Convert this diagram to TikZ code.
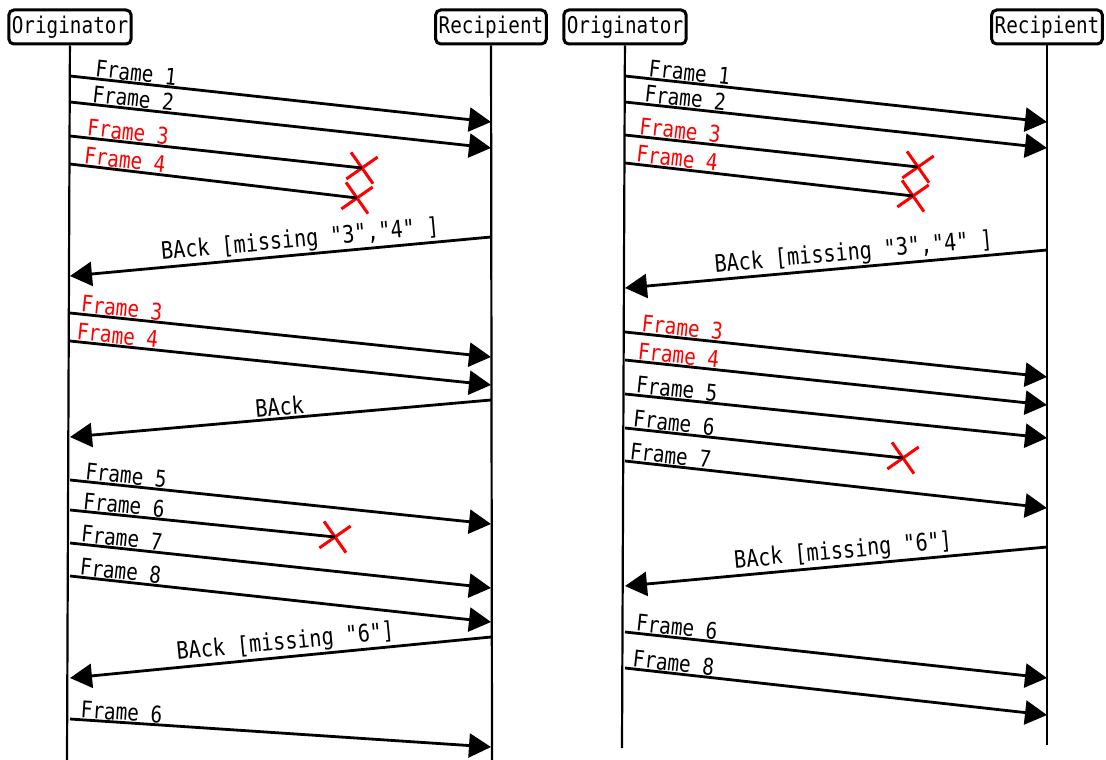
\documentclass[tikz,border=0pt]{standalone}
\usepackage{fontspec}
\newfontfamily\seqfont[FakeStretch=0.84]{DejaVu Sans Mono}
\usetikzlibrary{arrows.meta}
\usetikzlibrary{shapes.misc}

\begin{document}
\begin{tikzpicture}[x=1pt,y=-1pt,
  actor/.style={draw,line width=3pt,rounded corners=5pt,inner xsep=3pt,minimum height=34pt,font=\seqfont\fontsize{23}{26}\selectfont},
  life/.style={line width=2.2pt},
  msg/.style={line width=2.8pt,-{Triangle[length=22pt,width=24pt]}},
  lostmsg/.style={line width=2.8pt},
  lbl/.style={sloped,anchor=south west,inner sep=0.5pt,font=\seqfont\fontsize{23}{26}\selectfont},
  acklbl/.style={sloped,anchor=south,inner sep=1pt,font=\seqfont\fontsize{24}{26}\selectfont},
  lost/.style={cross out,draw=red,line width=3pt,minimum size=24pt,inner sep=0pt,rotate=-10}]

\useasboundingbox (0,0) rectangle (1106,760);

% left diagram
\node[actor] (o1) at (70,27) {Originator};
\node[actor] (r1) at (491,27) {Recipient};
\coordinate (o1end) at (67,760);
\coordinate (r1end) at (492,760);
\draw[life] (o1) -- (o1end);
\draw[life] (r1) -- (r1end);

\node[lost] (x1) at (362,168) {};
\node[lost] (x2) at (357,198) {};
\node[lost] (x3) at (335,537) {};

\draw[msg] (o1 |- 0,76) -- node[lbl,pos=.054] {Frame 1} (r1 |- 0,122);
\draw[msg] (o1 |- 0,102) -- node[lbl,pos=.047] {Frame 2} (r1 |- 0,148);
\draw[lostmsg] (o1 |- 0,136) -- node[lbl,pos=.05,text=red] {Frame 3} (x1.center);
\draw[lostmsg] (o1 |- 0,164) -- node[lbl,pos=.04,text=red] {Frame 4} (x2.center);
\draw[msg] (r1 |- 0,237) -- node[acklbl,pos=.45] {BAck [missing "3","4" ]} (o1 |- 0,276);
\draw[msg] (o1 |- 0,313) -- node[lbl,pos=.02,text=red] {Frame 3} (r1 |- 0,357);
\draw[msg] (o1 |- 0,341) -- node[lbl,pos=.01,text=red] {Frame 4} (r1 |- 0,385);
\draw[msg] (r1 |- 0,400) -- node[acklbl,pos=.5] {BAck} (o1 |- 0,437);
\draw[msg] (o1 |- 0,480) -- node[lbl,pos=.03] {Frame 5} (r1 |- 0,524);
\draw[lostmsg] (o1 |- 0,510) -- node[lbl,pos=.04] {Frame 6} (x3.center);
\draw[msg] (o1 |- 0,543) -- node[lbl,pos=.02] {Frame 7} (r1 |- 0,588);
\draw[msg] (o1 |- 0,576) -- node[lbl,pos=.017] {Frame 8} (r1 |- 0,622);
\draw[msg] (r1 |- 0,637) -- node[acklbl,pos=.485] {BAck [missing "6"]} (o1 |- 0,678);
\draw[msg] (o1 |- 0,719) -- node[lbl,pos=.02] {Frame 6} (r1 |- 0,747);

% right diagram
\node[actor] (o2) at (625,27) {Originator};
\node[actor] (r2) at (1047,27) {Recipient};
\coordinate (o2end) at (622,748);
\coordinate (r2end) at (1047,745);
\draw[life] (o2) -- (o2end);
\draw[life] (r2) -- (r2end);

\node[lost] (x4) at (918,167) {};
\node[lost] (x5) at (913,196) {};
\node[lost] (x6) at (903,458) {};

\draw[msg] (o2 |- 0,76) -- node[lbl,pos=.05] {Frame 1} (r2 |- 0,122);
\draw[msg] (o2 |- 0,102) -- node[lbl,pos=.04] {Frame 2} (r2 |- 0,148);
\draw[lostmsg] (o2 |- 0,135) -- node[lbl,pos=.04,text=red] {Frame 3} (x4.center);
\draw[lostmsg] (o2 |- 0,163) -- node[lbl,pos=.03,text=red] {Frame 4} (x5.center);
\draw[msg] (r2 |- 0,250) -- node[acklbl,pos=.455] {BAck [missing "3","4" ]} (o2 |- 0,288);
\draw[msg] (o2 |- 0,332) -- node[lbl,pos=.033,text=red] {Frame 3} (r2 |- 0,377);
\draw[msg] (o2 |- 0,360) -- node[lbl,pos=.024,text=red] {Frame 4} (r2 |- 0,405);
\draw[msg] (o2 |- 0,394) -- node[lbl,pos=.02] {Frame 5} (r2 |- 0,438);
\draw[lostmsg] (o2 |- 0,428) -- node[lbl,pos=.02] {Frame 6} (x6.center);
\draw[msg] (o2 |- 0,461) -- node[lbl,pos=.005] {Frame 7} (r2 |- 0,508);
\draw[msg] (r2 |- 0,547) -- node[acklbl,pos=.48] {BAck [missing "6"]} (o2 |- 0,586);
\draw[msg] (o2 |- 0,632) -- node[lbl,pos=.02] {Frame 6} (r2 |- 0,678);
\draw[msg] (o2 |- 0,668) -- node[lbl,pos=.012] {Frame 8} (r2 |- 0,715);

\end{tikzpicture}
\end{document}
